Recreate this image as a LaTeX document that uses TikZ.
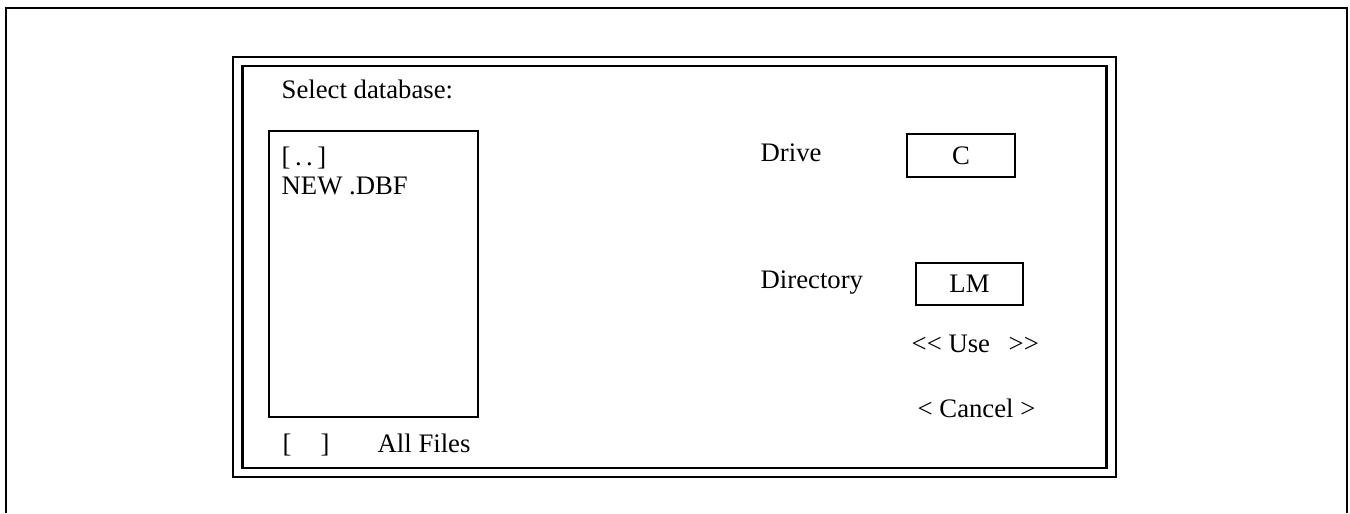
\documentclass[tikz,border=0pt]{standalone}
\usepackage{fontspec}
\setmainfont{Liberation Serif}
\usetikzlibrary{positioning,calc}

\begin{document}
\begin{tikzpicture}
% dialog layout, 1 unit = 100px of the screen shot
\tikzset{every node/.style={font=\fontsize{7.6}{9}\selectfont, inner sep=0pt}}
\tikzset{lbl/.style={anchor=base west}}
\tikzset{fieldbox/.style={draw, line width=0.5pt, minimum width=1.08cm, minimum height=0.43cm}}
\tikzset{frameline/.style={line width=0.6pt}}
\useasboundingbox (0,0) rectangle (13.5,5.13);

% screen outline, open at the bottom
\coordinate (screenSW) at (0.06,0);
\coordinate (screenNW) at (0.06,5.05);
\coordinate (screenNE) at (13.47,5.05);
\coordinate (screenSE) at (13.47,0);
\draw[frameline] (screenSW) -- (screenNW) -- (screenNE) -- (screenSE);

% double frame of the dialog
\node[draw, frameline, minimum width=8.83cm, minimum height=4.20cm] (dlgOuter) at (6.745,2.46) {};
\node[draw, frameline, minimum width=8.64cm, minimum height=4.02cm] (dlgInner) at (dlgOuter.center) {};

\node[lbl] (title) at (2.81,4.15) {Select database:};

% file list
\node[draw, line width=0.5pt, minimum width=2.09cm, minimum height=2.86cm] (fileList) at (3.735,2.39) {};
\node[lbl] (parent) at (2.81,3.48) {[\,.\,.\,]};
\node[lbl] (newdbf) at (2.81,3.19) {NEW .DBF};
\node[lbl] (chkOpen) at (2.82,0.61) {[};
\node[lbl] (chkClose) at (3.20,0.61) {]};
\node[lbl] (allFiles) at (3.77,0.61) {All Files};

% drive and directory
\node[lbl] (driveLbl) at (7.60,3.52) {Drive};
\node[fieldbox] (driveBox) at (9.61,3.575) {C};
\node[lbl] (dirLbl) at (7.60,2.25) {Directory};
\node[fieldbox, minimum width=1.07cm, minimum height=0.42cm] (dirBox) at (9.695,2.29) {LM};

% buttons
\node[lbl] (useBtn) at (9.11,1.61) {{<}{<} Use\hspace{0.7em}{>}{>}};
\node[lbl] (cancelBtn) at (9.17,0.96) {{<} Cancel {>}};
\end{tikzpicture}
\end{document}
